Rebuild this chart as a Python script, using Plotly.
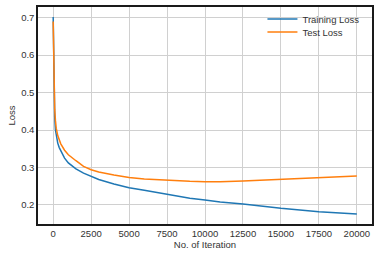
import plotly.graph_objects as go

iters = [0, 25, 50, 100, 150, 200, 300, 400, 500, 750, 1000, 1500, 2000, 2500, 3000, 4000,
         5000, 6000, 7500, 9000, 10000, 11000, 12500, 15000, 17500, 20000]
train_loss = [0.702, 0.60, 0.52, 0.435, 0.40, 0.383, 0.365, 0.353, 0.344, 0.325, 0.312, 0.296,
              0.285, 0.277, 0.268, 0.256, 0.246, 0.239, 0.228, 0.218, 0.213, 0.208, 0.2025,
              0.191, 0.182, 0.176]
test_loss = [0.69, 0.60, 0.525, 0.455, 0.425, 0.405, 0.385, 0.372, 0.363, 0.346, 0.334, 0.318,
             0.303, 0.294, 0.288, 0.28, 0.273, 0.269, 0.265, 0.263, 0.262, 0.2615, 0.264,
             0.2685, 0.273, 0.2775]
x_ticks = [0, 2500, 5000, 7500, 10000, 12500, 15000, 17500, 20000]
y_ticks = [0.2, 0.3, 0.4, 0.5, 0.6, 0.7]

fig = go.Figure()
fig.add_trace(go.Scatter(x=iters, y=train_loss, mode="lines", name="Training Loss",
                         line=dict(color="#1f77b4", width=1.5), legend="legend"))
fig.add_trace(go.Scatter(x=iters, y=test_loss, mode="lines", name="Test Loss",
                         line=dict(color="#ff7f0e", width=1.5), legend="legend2"))

font = dict(family="Liberation Sans, Arial, sans-serif", size=9.5, color="#333333")
leg_common = dict(x=0.672, xanchor="left", yanchor="top", bgcolor="rgba(0,0,0,0)",
                  font=dict(size=9.5, color="#333333"), itemwidth=30)
fig.update_layout(
    width=379, height=257,
    margin=dict(l=38, r=7, t=7, b=33, autoexpand=False),
    paper_bgcolor="white", plot_bgcolor="white",
    font=font,
    showlegend=True,
    legend=dict(y=1.0115, **leg_common),
    legend2=dict(y=0.9516, **leg_common),
)
axis_common = dict(showgrid=True, gridcolor="#d0d0d0", gridwidth=0.8, zeroline=False,
                   showline=True, linecolor="#1a1a1a", linewidth=1.5, mirror="all",
                   automargin=False, ticks="")
fig.update_xaxes(range=[-1000, 21000], tickvals=x_ticks, ticktext=[str(v) for v in x_ticks],
                 title=dict(text="No. of Iteration", standoff=0,
                            font=dict(size=9.5, color="#333333")), **axis_common)
fig.update_yaxes(range=[0.149, 0.7285], tickvals=y_ticks, ticktext=[f"{v:.1f}" for v in y_ticks],
                 title=dict(text="Loss", standoff=4,
                            font=dict(size=9.5, color="#333333")), **axis_common)
fig.write_html("out.html", config={"displayModeBar": False},
               post_script="document.body.style.margin='0';document.body.style.padding='0';")
